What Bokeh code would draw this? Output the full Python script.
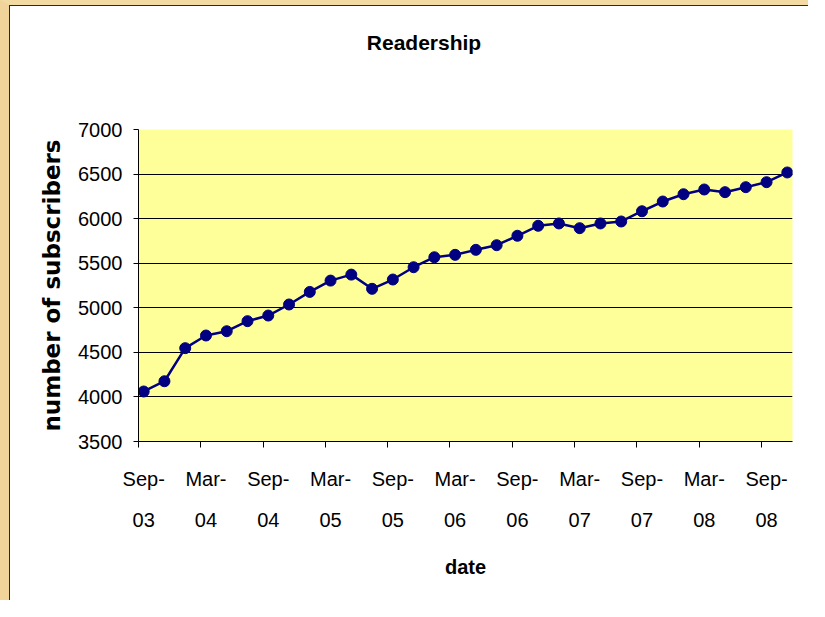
from bokeh.plotting import figure
from bokeh.models import Range1d, FixedTicker, ColumnDataSource, LinearAxis
from bokeh.layouts import column
from bokeh.embed import file_html
from bokeh.resources import INLINE

# ---- data -------------------------------------------------------------
dates = ["2003-09", "2003-11",
         "2004-01", "2004-03", "2004-05", "2004-07", "2004-09", "2004-11",
         "2005-01", "2005-03", "2005-05", "2005-07", "2005-09", "2005-11",
         "2006-01", "2006-03", "2006-05", "2006-07", "2006-09", "2006-11",
         "2007-01", "2007-03", "2007-05", "2007-07", "2007-09", "2007-11",
         "2008-01", "2008-03", "2008-05", "2008-07", "2008-09", "2008-11"]
subscribers = [4061, 4176, 4547, 4689, 4737, 4850, 4913, 5037,
               5178, 5305, 5372, 5213, 5317, 5455, 5567, 5594,
               5650, 5702, 5808, 5920, 5946, 5893, 5946, 5968,
               6083, 6192, 6274, 6327, 6297, 6353, 6409, 6518]
tick_dates = ["2003-09", "2004-03", "2004-09", "2005-03", "2005-09", "2006-03",
              "2006-09", "2007-03", "2007-09", "2008-03", "2008-09"]
tick_labels = ["Sep-\n03", "Mar-\n04", "Sep-\n04", "Mar-\n05", "Sep-\n05", "Mar-\n06",
               "Sep-\n06", "Mar-\n07", "Sep-\n07", "Mar-\n08", "Sep-\n08"]
y_ticks = [3500, 4000, 4500, 5000, 5500, 6000, 6500, 7000]
axis_start, axis_end = "2003-09", "2008-12"
title_text = "Readership"
x_title = "date"
y_title = "number of subscribers"


def month_index(s):
    y, m = s.split("-")
    return (int(y) - 2003) * 12 + (int(m) - 9)


x = [month_index(d) for d in dates]
src = ColumnDataSource(dict(x=x, y=subscribers))

FONT = "Liberation Sans"

p = figure(width=799, height=595, output_backend="svg", toolbar_location=None,
           x_range=Range1d(month_index(axis_start) - 0.5, month_index(axis_end) - 0.5),
           y_range=Range1d(y_ticks[0], y_ticks[-1]),
           min_border_left=128, min_border_right=17, min_border_top=123,
           min_border_bottom=160)
p.title.text = ""

p.background_fill_color = "#FFFF99"
p.border_fill_color = "white"
p.outline_line_color = None
p.styles = {"border-left": "1px solid #2a2a2a", "border-top": "1px solid #2a2a2a"}

# chart title: a single label on an otherwise empty axis above the plot area,
# so it can sit high above the frame and left of the frame centre
title_pos = 27  # horizontal anchor of the title, in month-slot units
title_axis = LinearAxis(ticker=FixedTicker(ticks=[title_pos]),
                        major_label_overrides={title_pos: title_text},
                        major_tick_out=0, major_tick_in=0,
                        axis_line_color=None, major_tick_line_color=None,
                        minor_tick_line_color=None,
                        major_label_text_font=FONT, major_label_text_font_size="21px",
                        major_label_text_font_style="bold",
                        major_label_text_color="black", major_label_standoff=76)
p.add_layout(title_axis, "above")

# grid
p.xgrid.grid_line_color = None
p.ygrid.ticker = FixedTicker(ticks=y_ticks)
p.ygrid.grid_line_color = "black"
p.ygrid.grid_line_width = 1

# y axis
p.yaxis.ticker = FixedTicker(ticks=y_ticks)
p.yaxis.axis_line_color = "black"
p.yaxis.major_tick_line_color = "black"
p.yaxis.major_tick_out = 5
p.yaxis.major_tick_in = 0
p.yaxis.minor_tick_line_color = None
p.yaxis.major_label_text_font = FONT
p.yaxis.major_label_text_font_size = "20px"
p.yaxis.major_label_text_color = "black"
p.yaxis.major_label_standoff = 11
p.yaxis.axis_label = y_title
p.yaxis.axis_label_text_font = "DejaVu Sans"
p.yaxis.axis_label_text_font_size = "23px"
p.yaxis.axis_label_text_font_style = "bold"
p.yaxis.axis_label_text_color = "black"
p.yaxis.axis_label_standoff = 10

# x axis (labels centred in the month slot, tick marks on slot boundaries)
xaxis = p.below[0]
tick_x = [month_index(t) for t in tick_dates]
xaxis.ticker = FixedTicker(ticks=tick_x, minor_ticks=[t - 0.5 for t in tick_x])
xaxis.major_label_overrides = {t: lab for t, lab in zip(tick_x, tick_labels)}
xaxis.axis_line_color = "black"
xaxis.major_tick_out = 0
xaxis.major_tick_in = 0
xaxis.minor_tick_line_color = "black"
xaxis.minor_tick_out = 6
xaxis.minor_tick_in = 0
xaxis.major_label_text_font = FONT
xaxis.major_label_text_font_size = "20px"
xaxis.major_label_text_color = "black"
xaxis.major_label_text_line_height = 1.9
xaxis.major_label_standoff = 20
xaxis.axis_label = x_title
xaxis.axis_label_text_font = FONT
xaxis.axis_label_text_font_size = "20px"
xaxis.axis_label_text_font_style = "bold"
xaxis.axis_label_text_color = "black"
xaxis.axis_label_standoff = 22

# series
p.line("x", "y", source=src, line_color="#000080", line_width=2.5)
p.scatter("x", "y", source=src, size=11, fill_color="#000080", line_color="#000080")

page = column(p, styles={"border-left": "9px solid #F0D49A",
                         "border-top": "5px solid #F3D9A2"})

open("out.html", "w").write(file_html(page, INLINE))
